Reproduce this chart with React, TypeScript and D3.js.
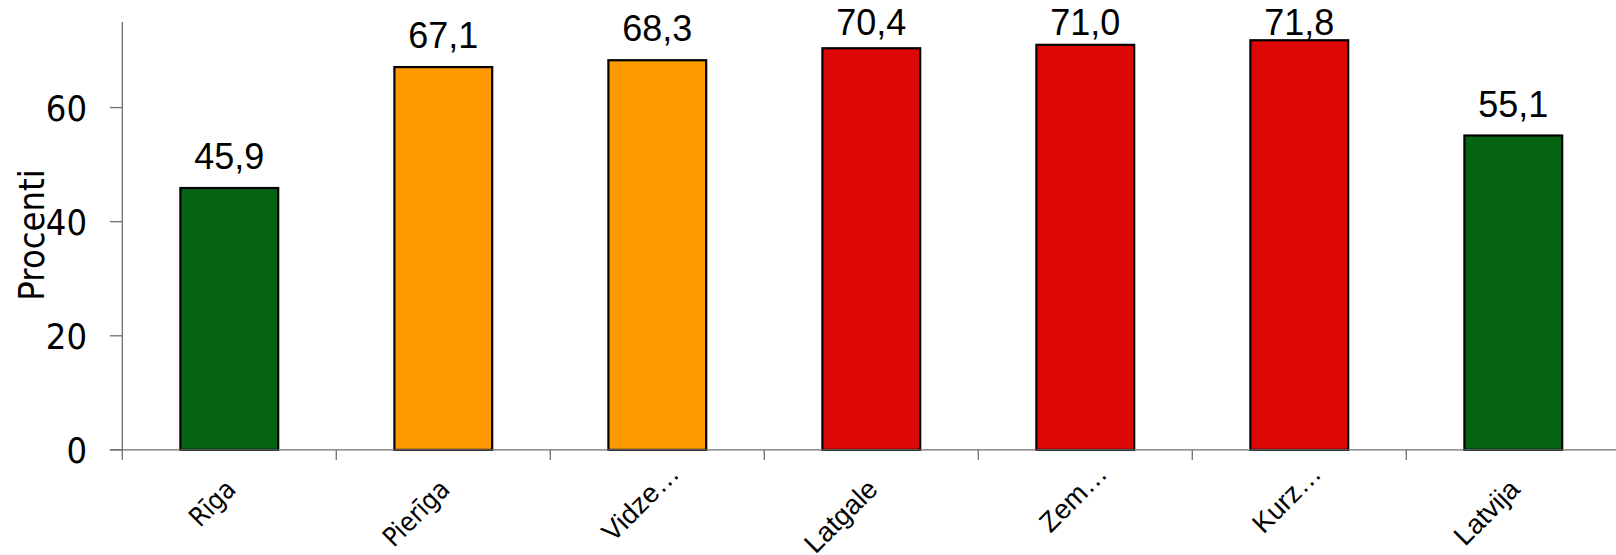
import React from "react";
import * as d3 from "d3";

// Share of population by region, percent
const categories = ["Rīga", "Pierīga", "Vidze…", "Latgale", "Zem…", "Kurz…", "Latvija"];
const values = [45.9, 67.1, 68.3, 70.4, 71.0, 71.8, 55.1];
const tiers = ["low", "mid", "mid", "high", "high", "high", "low"];
const yTicks = [0, 20, 40, 60];
const yLabel = "Procenti";

const W = 1616;
const H = 555;
const margin = { left: 122.3, right: -4.3, top: 22, bottom: 105.1 };

const tierColor = d3
  .scaleOrdinal<string, string>()
  .domain(["low", "mid", "high"])
  .range(["#056314", "#FF9900", "#DD0806"]);

const locale = d3.formatLocale({ decimal: ",", thousands: " ", grouping: [3], currency: ["", ""] });
const fmt = locale.format(".1f");

const AXIS = "#707070";
const WIDE = "'DejaVu Sans', Verdana, sans-serif";
const ARIAL = "'Liberation Sans', Arial, sans-serif";
// DejaVu is drawn slightly narrowed to get a Tahoma-like width
const NARROW = 0.9;

export default function App() {
  const x = d3
    .scaleBand<string>()
    .domain(categories)
    .range([margin.left, W - margin.right]);
  const y = d3
    .scaleLinear()
    .domain([0, 75])
    .range([H - margin.bottom, margin.top]);

  const barW = x.bandwidth() * 0.457;
  const y0 = y(0);
  const xEnd = W - margin.right;
  const boundaries = categories.map((c) => x(c) as number);
  const center = (c: string) => (x(c) as number) + x.bandwidth() / 2;

  return (
    <svg
      width={W}
      height={H}
      style={{ position: "absolute", left: 0, top: 0, background: "#fff" }}
    >
      {/* bars */}
      {categories.map((c, i) => (
        <rect
          key={c}
          x={center(c) - barW / 2}
          y={y(values[i])}
          width={barW}
          height={y0 - y(values[i])}
          fill={tierColor(tiers[i])}
          stroke="#000"
          strokeWidth={2.2}
        />
      ))}

      {/* axes */}
      <line x1={margin.left} x2={margin.left} y1={margin.top} y2={y0 + 10} stroke={AXIS} strokeWidth={1.3} />
      <line x1={margin.left - 12.5} x2={xEnd} y1={y0} y2={y0} stroke={AXIS} strokeWidth={1.3} />
      {yTicks.map((t) => (
        <g key={t}>
          <line x1={margin.left - 12.5} x2={margin.left} y1={y(t)} y2={y(t)} stroke={AXIS} strokeWidth={1.3} />
          <text
            transform={`translate(87,${y(t)}) scale(${NARROW},1)`}
            dy="0.36em"
            textAnchor="end"
            fontFamily={WIDE}
            fontSize={36}
            fill="#000"
          >
            {t}
          </text>
        </g>
      ))}
      {boundaries.slice(1).map((bx, i) => (
        <line key={i} x1={bx} x2={bx} y1={y0} y2={y0 + 10} stroke={AXIS} strokeWidth={1.3} />
      ))}

      {/* value labels */}
      {categories.map((c, i) => (
        <text
          key={c}
          x={center(c)}
          y={Math.max(y(values[i]) - 19, 34.5)}
          textAnchor="middle"
          fontFamily={ARIAL}
          fontSize={36}
          fill="#000"
        >
          {fmt(values[i])}
        </text>
      ))}

      {/* category labels: truncated names let the ellipsis hang past the anchor */}
      {categories.map((c) => {
        const extended = /[\u0100-\u017F]/.test(c);
        const truncated = c.endsWith("…");
        return (
          <text
            key={c}
            transform={`translate(${center(c) + 8},${y0 + 41}) rotate(-45)${extended ? ` scale(${NARROW},1)` : ""}`}
            dx={truncated ? "0.8em" : 0}
            textAnchor="end"
            fontFamily={extended ? WIDE : ARIAL}
            fontSize={extended ? 26.5 : 27.5}
            fill="#000"
          >
            {c}
          </text>
        );
      })}

      {/* y axis title */}
      <text
        transform={`translate(44,235) rotate(-90) scale(${NARROW},1)`}
        textAnchor="middle"
        fontFamily={WIDE}
        fontSize={36}
        fill="#000"
      >
        {yLabel}
      </text>
    </svg>
  );
}
